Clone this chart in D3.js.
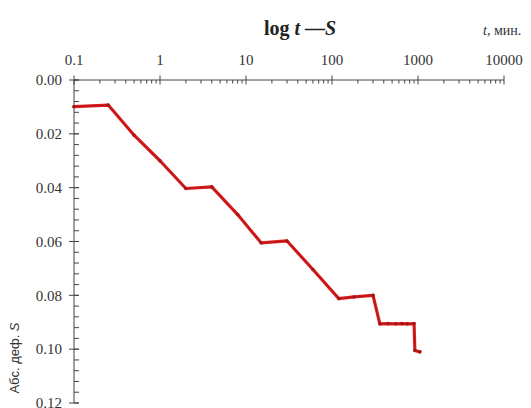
<!DOCTYPE html>
<html><head><meta charset="utf-8">
<script src="https://cdn.jsdelivr.net/npm/d3@7"></script>
<style>html,body{margin:0;padding:0;background:#fff;}</style>
</head><body>
<svg id="c" width="531" height="408"></svg>
<script>
const timeMin = [0.1, 0.25, 0.5, 1, 2, 4, 8, 15, 30, 60, 120, 180, 300, 360, 450, 550, 650, 750, 900, 920, 1050];
const deformation = [0.0099, 0.0093, 0.0205, 0.030, 0.0403, 0.0397, 0.050, 0.0605, 0.0598, 0.0704, 0.0812, 0.0806, 0.0800, 0.0906, 0.0905, 0.0906, 0.0905, 0.0906, 0.0905, 0.1005, 0.1010];
const xTicks = [0.1, 1, 10, 100, 1000, 10000];
const xTickLabels = ["0.1", "1", "10", "100", "1000", "10000"];
const yTicks = [0.00, 0.02, 0.04, 0.06, 0.08, 0.10, 0.12];

const svg = d3.select("#c");
const x = d3.scaleLog().domain([0.1, 10000]).range([74, 504]);
const y = d3.scaleLinear().domain([0, 0.12]).range([80, 403]);
const axisColor = "#444";
const serif = "'Liberation Serif', 'DejaVu Serif', serif";

// X axis (top)
const gx = svg.append("g");
gx.append("line").attr("x1", x.range()[0]).attr("x2", x.range()[1])
  .attr("y1", y(0)).attr("y2", y(0)).attr("stroke", axisColor).attr("stroke-width", 1);
const minorX = [];
for (let d = 0.1; d < 10000; d *= 10) for (let k = 2; k <= 9; k++) minorX.push(d * k);
gx.selectAll(".mx").data(minorX).enter().append("line")
  .attr("x1", d => x(d)).attr("x2", d => x(d))
  .attr("y1", y(0)).attr("y2", y(0) + 3.5).attr("stroke", axisColor).attr("stroke-width", 1);
gx.selectAll(".Mx").data(xTicks).enter().append("line")
  .attr("x1", d => x(d)).attr("x2", d => x(d))
  .attr("y1", y(0) - 4.5).attr("y2", y(0) + 4.5).attr("stroke", axisColor).attr("stroke-width", 1);
gx.selectAll(".lx").data(xTicks).enter().append("text")
  .attr("x", d => x(d)).attr("y", 65).attr("text-anchor", "middle")
  .attr("font-family", serif).attr("font-size", 15).attr("fill", "#333")
  .text((d, i) => xTickLabels[i]);

// Y axis (left)
const gy = svg.append("g");
gy.append("line").attr("x1", x(0.1)).attr("x2", x(0.1))
  .attr("y1", y(0)).attr("y2", y(0.12)).attr("stroke", axisColor).attr("stroke-width", 1);
const minorY = d3.range(0, 0.12 + 1e-9, 0.004);
gy.selectAll(".my").data(minorY).enter().append("line")
  .attr("x1", x(0.1)).attr("x2", x(0.1) + 5)
  .attr("y1", d => y(d)).attr("y2", d => y(d)).attr("stroke", axisColor).attr("stroke-width", 1);
gy.selectAll(".My").data(yTicks).enter().append("line")
  .attr("x1", x(0.1) - 5).attr("x2", x(0.1) + 5)
  .attr("y1", d => y(d)).attr("y2", d => y(d)).attr("stroke", axisColor).attr("stroke-width", 1);
gy.selectAll(".ly").data(yTicks).enter().append("text")
  .attr("x", 62).attr("y", d => y(d)).attr("dy", "0.35em").attr("text-anchor", "end")
  .attr("font-family", serif).attr("font-size", 15).attr("fill", "#333")
  .text(d => d3.format(".2f")(d));

// Titles
const title = svg.append("text").attr("x", 300).attr("y", 35).attr("text-anchor", "middle")
  .attr("font-family", serif).attr("font-size", 20).attr("font-weight", "bold").attr("fill", "#222");
title.append("tspan").text("log ");
title.append("tspan").attr("font-style", "italic").text("t");
title.append("tspan").text(" —");
title.append("tspan").attr("font-style", "italic").text("S");

const unit = svg.append("text").attr("x", 483).attr("y", 35)
  .attr("font-family", serif).attr("font-size", 14).attr("font-style", "italic").attr("fill", "#333");
unit.append("tspan").text("t");
unit.append("tspan").attr("font-style", "normal").text(", мин.");

const ylab = svg.append("text").attr("transform", "translate(19,358) rotate(-90)")
  .attr("text-anchor", "middle").attr("font-family", "'Liberation Sans', 'DejaVu Sans', sans-serif")
  .attr("font-size", 13).attr("fill", "#333");
ylab.append("tspan").text("Абс. деф. ");
ylab.append("tspan").attr("font-style", "italic").text("S");

// Data line
const pts = timeMin.map((t, i) => [t, deformation[i]]);
const line = d3.line().x(d => x(d[0])).y(d => y(d[1])).curve(d3.curveLinear);
svg.append("path").datum(pts).attr("d", line)
  .attr("fill", "none").attr("stroke", "#e0201e").attr("stroke-width", 3.2)
  .attr("stroke-linejoin", "round").attr("stroke-linecap", "round");
svg.append("path").datum(pts).attr("d", line)
  .attr("fill", "none").attr("stroke", "#b5161a").attr("stroke-width", 1.2)
  .attr("stroke-linejoin", "round");
svg.selectAll(".pt").data(pts).enter().append("circle")
  .attr("cx", d => x(d[0])).attr("cy", d => y(d[1])).attr("r", 1.8).attr("fill", "#a81418");
</script>
</body></html>
